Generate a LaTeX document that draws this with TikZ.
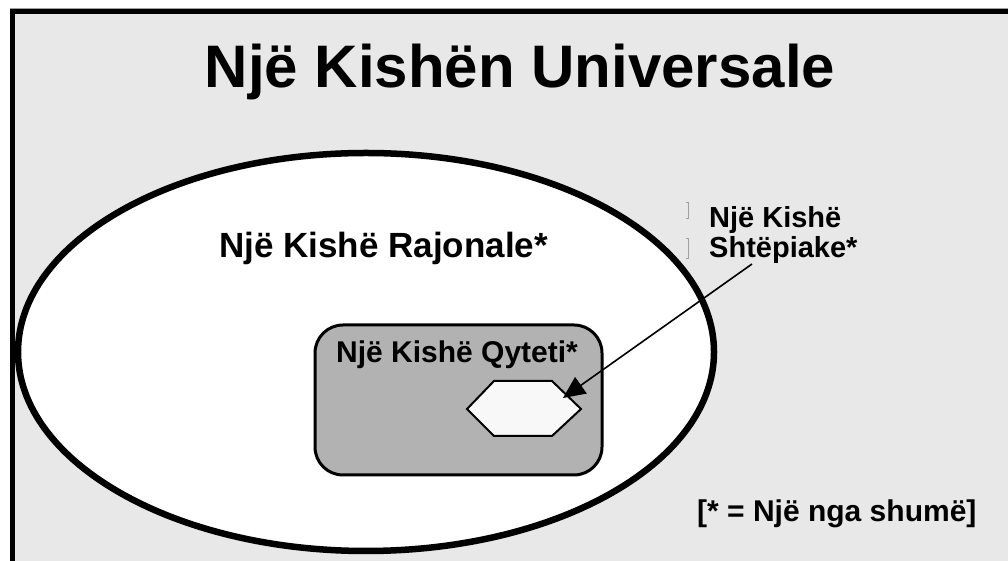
\documentclass[tikz,border=0pt]{standalone}
\usepackage{fontspec}
\setmainfont{Liberation Sans}
\usetikzlibrary{shapes.geometric,arrows.meta}
\definecolor{bg}{HTML}{E8E8E8}
\definecolor{citygray}{HTML}{B2B2B2}
\definecolor{hexfill}{HTML}{F8F8F8}
\definecolor{faint}{HTML}{A0A0A0}
\tikzset{
  lbl/.style={font=\bfseries\fontsize{#1}{#1}\selectfont, inner sep=0pt, anchor=base west},
  marker/.style={draw=faint, line width=0.8pt},
}
\begin{document}
\begin{tikzpicture}[x=1pt,y=1pt]
\useasboundingbox (0,0) rectangle (1008,561);
\fill[white] (0,0) rectangle (1008,561);
\draw[faint, line width=0.8pt] (10,552.5) -- (1008,552.5);
\draw[line width=5pt, fill=bg] (12.5,-20) rectangle (1030,549.25);
% title
\node[font=\bfseries\fontsize{60}{60}\selectfont, inner sep=0pt, anchor=base] (title) at (520,473) {Një Kishën Universale};
% region ellipse
\node[ellipse, draw, line width=6.5pt, fill=white, minimum width=696pt, minimum height=398pt, inner sep=0pt] (region) at (366,209) {};
\node[lbl=35] (regionlbl) at (219,303) {Një Kishë Rajonale*};
% city box
\node[rectangle, rounded corners=28pt, draw, line width=3pt, fill=citygray, minimum width=287pt, minimum height=150pt, inner sep=0pt] (city) at (458.5,161) {};
\node[lbl=30] (citylbl) at (336,198) {Një Kishë Qyteti*};
% house hexagon
\coordinate (h1) at (467,152);
\coordinate (h2) at (494,180);
\coordinate (h3) at (552,180);
\coordinate (h4) at (581,152);
\coordinate (h5) at (552,125);
\coordinate (h6) at (494,125);
\draw[line width=2pt, fill=hexfill, line join=miter] (h1) -- (h2) -- (h3) -- (h4) -- (h5) -- (h6) -- cycle;
\coordinate (tip) at (563,163);
% house label
\node[lbl=29, align=left] (houselbl1) at (709,333) {Një Kishë};
\node[lbl=29, align=left] (houselbl2) at (709,303) {Shtëpiake*};
\coordinate (start) at (752,297);
\draw[line width=1.6pt, -{Triangle[length=22pt,width=20pt]}] (start) -- (tip);
% faint marks
\draw[marker] (686,359) -- (688,359) -- (688,343) -- (686,343);
\draw[marker] (686,323) -- (688,323) -- (688,303) -- (686,303);
% footnote
\node[lbl=30] (note) at (697,39) {[* = Një nga shumë]};
\end{tikzpicture}
\end{document}
